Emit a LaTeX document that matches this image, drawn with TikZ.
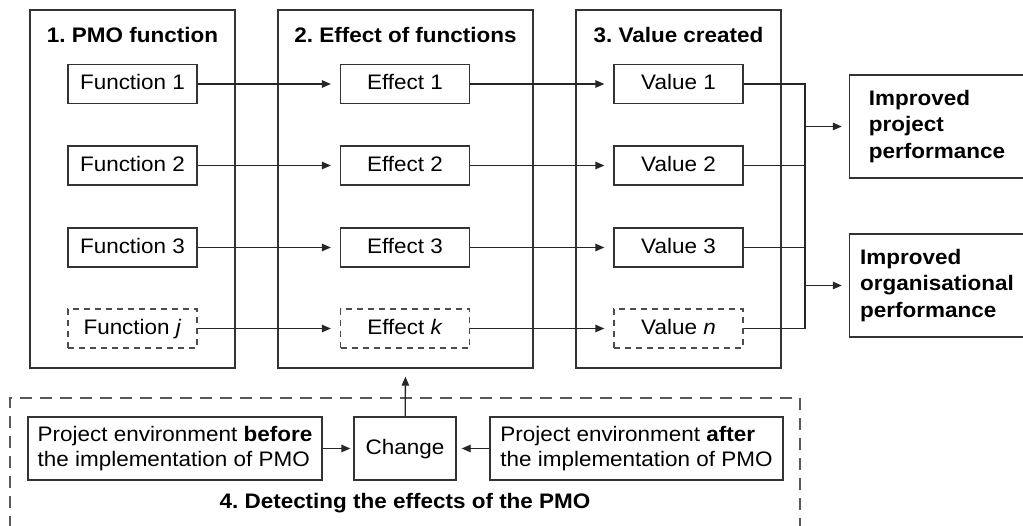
\documentclass[tikz,border=0pt]{standalone}
\usepackage{fontspec}
\setmainfont{Liberation Sans}[FakeStretch=1.07]
\usetikzlibrary{arrows.meta}
\frenchspacing
\begin{document}
\begin{tikzpicture}[x=1pt,y=-1pt,
  every node/.style={font=\fontsize{21}{26}\selectfont, text=black},
  panel/.style={draw=black!80, line width=1.4pt, minimum width=205pt, minimum height=358pt, inner sep=0pt},
  box/.style={draw=black!80, line width=1.3pt, minimum width=129pt, minimum height=39pt, inner sep=0pt, text height=16pt, text depth=4pt},
  dbox/.style={box, draw=black!70, dash pattern=on 6pt off 5pt},
  ttl/.style={font=\fontsize{21}{26}\selectfont\bfseries},
  arr/.style={-{Triangle[length=9pt,width=7.5pt]}, line width=1.3pt, draw=black!85, shorten >=9pt},
  ln/.style={line width=1.3pt, draw=black!85},
  outbox/.style={draw=black!80, line width=1.4pt, minimum width=175pt, minimum height=103pt, align=left, inner sep=0pt, font=\fontsize{21}{26.5}\selectfont\bfseries},
  envbox/.style={draw=black!80, line width=1.3pt, minimum height=63pt, inner sep=0pt, align=left, font=\fontsize{21}{25.5}\selectfont}
]
\useasboundingbox (0,0) rectangle (1023,526);
% panels
\node[panel] (p1) at (132.5,189) {};
\node[panel, minimum width=255pt] (p2) at (405.5,189) {};
\node[panel] (p3) at (678.5,189) {};
\node[ttl] (t1) at (132.5,35) {1. PMO function};
\node[ttl] (t2) at (405.5,35) {2. Effect of functions};
\node[ttl] (t3) at (678.5,35) {3. Value created};
% function boxes
\node[box] (f1) at (132.5,84) {Function 1};
\node[box] (f2) at (132.5,165.5) {Function 2};
\node[box] (f3) at (132.5,247.5) {Function 3};
\node[dbox] (fj) at (132.5,328.5) {Function \textit{j}};
\node[box] (e1) at (405,84) {Effect 1};
\node[box] (e2) at (405,165.5) {Effect 2};
\node[box] (e3) at (405,247.5) {Effect 3};
\node[dbox] (ek) at (405,328.5) {Effect \textit{k}};
\node[box] (v1) at (678.5,84) {Value 1};
\node[box] (v2) at (678.5,165.5) {Value 2};
\node[box] (v3) at (678.5,247.5) {Value 3};
\node[dbox] (vn) at (678.5,328.5) {Value \textit{n}};
\foreach \a/\b in {f1/e1,f2/e2,f3/e3,fj/ek,e1/v1,e2/v2,e3/v3,ek/vn}
  \draw[arr] (\a) -- (\b);
% outcome boxes
\node[outbox] (o1) at (937,126.5) {Improved\\project\\performance};
\node[outbox] (o2) at (937,285.5) {Improved\\organisational\\performance};
% bus
\coordinate (bt) at (805,84);
\coordinate (bb) at (805,328.5);
\draw[ln] (v1.east) -- (bt) -- (bb) -- (vn.east);
\draw[ln] (v2.east) -- (v2.east -| bt);
\draw[ln] (v3.east) -- (v3.east -| bt);
\draw[arr, shorten >=7pt] (bt |- o1.west) -- (o1.west);
\draw[arr, shorten >=7pt] (bt |- o2.west) -- (o2.west);
% detection box
\node[draw=black!65, line width=1.3pt, dash pattern=on 12pt off 8pt, minimum width=790pt, minimum height=142pt, inner sep=0pt] (d4) at (405,469) {};
\node[envbox, minimum width=294pt] (eb) at (175,448.5) {Project environment \textbf{before}\\the implementation of PMO};
\node[envbox, minimum width=102pt, align=center, text height=16pt, text depth=4pt] (ch) at (405,448.5) {Change};
\node[envbox, minimum width=293pt] (ea) at (636.5,448.5) {Project environment \textbf{after}\\the implementation of PMO};
\draw[arr, shorten >=3pt] (eb) -- (ch);
\draw[arr, shorten >=5pt] (ea) -- (ch);
\draw[arr, shorten >=8pt] (ch) -- (p2.south);
\node[ttl] (t4) at (405,503) {4. Detecting the effects of the PMO};
\end{tikzpicture}
\end{document}
